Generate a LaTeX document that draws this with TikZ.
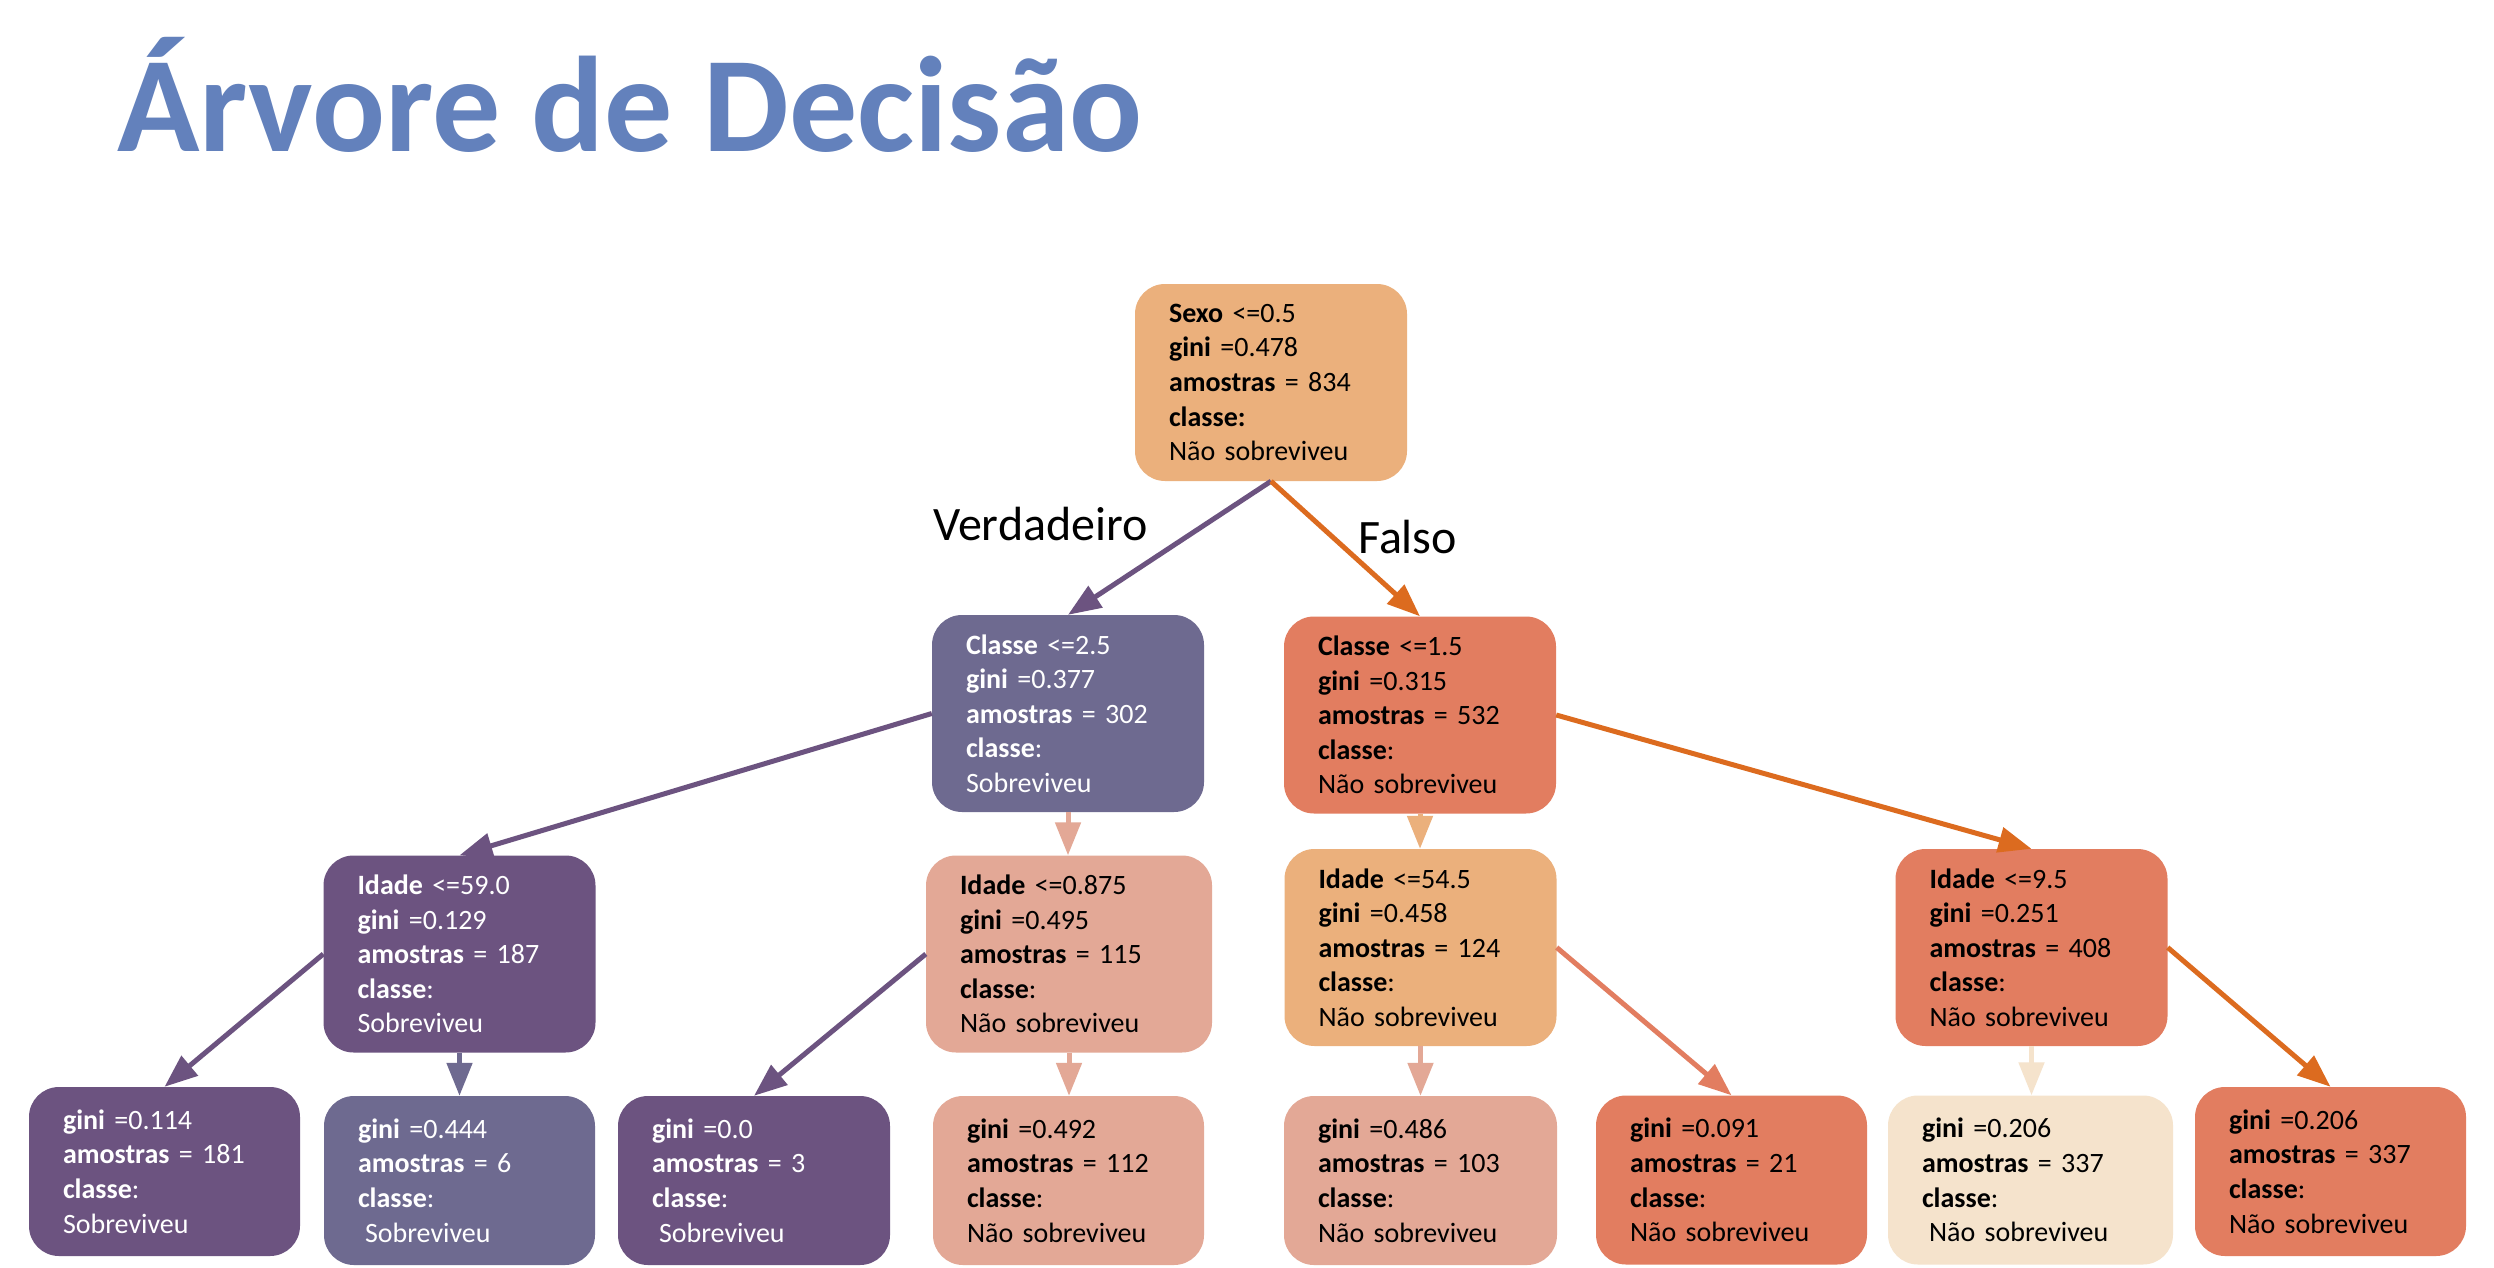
\documentclass[tikz,border=0pt]{standalone}
\usepackage{fontspec}
\setmainfont{Carlito}
\usetikzlibrary{arrows.meta}
\definecolor{cOrangeLight}{HTML}{EBB07C}
\definecolor{cPurpleGray}{HTML}{6E6A90}
\definecolor{cSalmon}{HTML}{E27D60}
\definecolor{cPurple}{HTML}{6C5380}
\definecolor{cPink}{HTML}{E3A896}
\definecolor{cCream}{HTML}{F5E3CC}
\definecolor{cOrange}{HTML}{DC6B1F}
\definecolor{cTitle}{HTML}{6381BC}
\tikzset{
  box/.style={rounded corners=30pt, inner xsep=34pt, inner ysep=0pt, align=left,
    text width=204pt, font=\fontsize{28}{34.6}\selectfont},
  inner/.style={box, minimum height=197pt},
  leaf/.style={box, minimum height=169pt},
  wtext/.style={text=white},
  conn/.style={line width=5pt, -{Triangle[length=33pt,width=25pt]}},
  lbl/.style={anchor=base west, inner sep=0pt, font=\fontsize{48}{58}\selectfont},
}
\begin{document}
\begin{tikzpicture}[x=1pt,y=-1pt]
\useasboundingbox (0,0) rectangle (2494,1268);
\fill[white] (0,0) rectangle (2494,1268);

\node[anchor=base west, inner sep=0pt, text=cTitle, font=\fontsize{136}{160}\selectfont\bfseries] (title) at (117,152) {Árvore de Decisão};

% level 0
\node[inner, fill=cOrangeLight] (R) at (1271,382.5) {\textbf{Sexo} <=0.5\\\textbf{gini} =0.478\\\textbf{amostras} = 834\\\textbf{classe:}\\Não sobreviveu};

% level 1
\node[inner, wtext, fill=cPurpleGray] (N1) at (1068,713.5) {\textbf{Classe} <=2.5\\\textbf{gini} =0.377\\\textbf{amostras} = 302\\\textbf{classe}:\\Sobreviveu};
\node[inner, fill=cSalmon] (N2) at (1420,715) {\textbf{Classe} <=1.5\\\textbf{gini} =0.315\\\textbf{amostras} = 532\\\textbf{classe}:\\Não sobreviveu};

% level 2
\node[inner, wtext, fill=cPurple] (A) at (459.5,954) {\textbf{Idade} <=59.0\\\textbf{gini} =0.129\\\textbf{amostras} = 187\\\textbf{classe}:\\Sobreviveu};
\node[inner, fill=cPink, text width=218pt] (B) at (1069,954) {\textbf{Idade} <=0.875\\\textbf{gini} =0.495\\\textbf{amostras} = 115\\\textbf{classe}:\\Não sobreviveu};
\node[inner, fill=cOrangeLight] (C) at (1420.5,947.5) {\textbf{Idade} <=54.5\\\textbf{gini} =0.458\\\textbf{amostras} = 124\\\textbf{classe}:\\Não sobreviveu};
\node[inner, fill=cSalmon] (D) at (2031.5,947.5) {\textbf{Idade} <=9.5\\\textbf{gini} =0.251\\\textbf{amostras} = 408\\\textbf{classe}:\\Não sobreviveu};

% leaves
\node[leaf, wtext, fill=cPurple, text width=203pt] (L1) at (164.5,1171.5) {\textbf{gini} =0.114\\\textbf{amostras} = 181\\\textbf{classe}:\\Sobreviveu};
\node[leaf, wtext, fill=cPurpleGray, text width=203pt] (L2) at (459.5,1180.5) {\textbf{gini} =0.444\\\textbf{amostras} = 6\\\textbf{classe}:\\\hspace*{7pt}Sobreviveu};
\node[leaf, wtext, fill=cPurple] (L3) at (754,1180.5) {\textbf{gini} =0.0\\\textbf{amostras} = 3\\\textbf{classe}:\\\hspace*{7pt}Sobreviveu};
\node[leaf, fill=cPink, text width=203pt] (L4) at (1068.5,1180.5) {\textbf{gini} =0.492\\\textbf{amostras} = 112\\\textbf{classe}:\\Não sobreviveu};
\node[leaf, fill=cPink, text width=205pt] (L5) at (1420.5,1180.5) {\textbf{gini} =0.486\\\textbf{amostras} = 103\\\textbf{classe}:\\Não sobreviveu};
\node[leaf, fill=cSalmon, text width=203pt] (L6) at (1731.5,1180) {\textbf{gini} =0.091\\\textbf{amostras} = 21\\\textbf{classe}:\\Não sobreviveu};
\node[leaf, fill=cCream, text width=217pt] (L7) at (2030.5,1180) {\textbf{gini} =0.206\\\textbf{amostras} = 337\\\textbf{classe}:\\\hspace*{7pt}Não sobreviveu};
\node[leaf, fill=cSalmon, text width=203pt] (L8) at (2330.5,1171.5) {\textbf{gini} =0.206\\\textbf{amostras} = 337\\\textbf{classe}:\\Não sobreviveu};

% labels
\node[lbl] (ver) at (933,540) {Verdadeiro};
\node[lbl] (fal) at (1358,553) {Falso};

% connectors
\draw[conn, cPurple] (R.south) -- (N1.north);
\draw[conn, cOrange] (R.south) -- (N2.north);
\draw[conn, cPurple] (N1.west) -- (A.north);
\draw[conn, cPink] (N1.south) -- (N1.south |- B.north);
\draw[conn, cOrangeLight] (N2.south) -- (N2.south |- C.north);
\draw[conn, cOrange] (N2.east) -- (D.north);
\draw[conn, cPurple] (A.west) -- (L1.north);
\draw[conn, cPurpleGray] (A.south) -- (A.south |- L2.north);
\draw[conn, cPurple] (B.west) -- (L3.north);
\draw[conn, cPink] (B.south) -- (B.south |- L4.north);
\draw[conn, cPink] (C.south) -- (C.south |- L5.north);
\draw[conn, cSalmon] (C.east) -- (L6.north);
\draw[conn, cCream] (D.south) -- (D.south |- L7.north);
\draw[conn, cOrange] (D.east) -- (L8.north);
\end{tikzpicture}
\end{document}
